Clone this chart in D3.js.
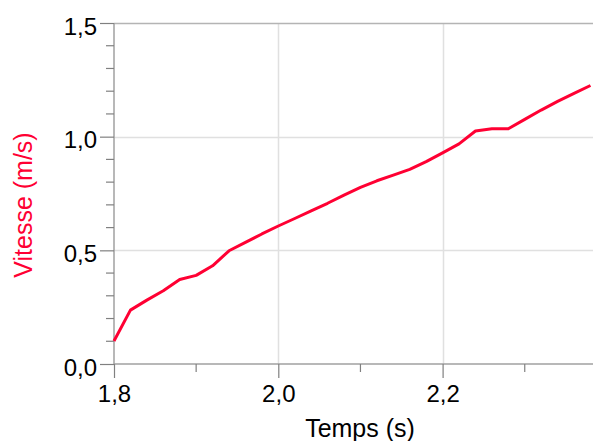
<!DOCTYPE html>
<html>
<head>
<meta charset="utf-8">
<script src="https://cdn.jsdelivr.net/npm/d3@7"></script>
<style>
  body { margin: 0; background: #fff; }
  text { font-family: "Liberation Sans", Arial, sans-serif; }
</style>
</head>
<body>
<script>
var w = 593;
var h = 441;

// temps (s)
var temps = [1.80, 1.82, 1.84, 1.86, 1.88, 1.90, 1.92, 1.94, 1.96, 1.98,
  2.00, 2.02, 2.04, 2.06, 2.08, 2.10, 2.12, 2.14, 2.16, 2.18,
  2.20, 2.22, 2.24, 2.26, 2.28, 2.30, 2.32, 2.34, 2.36, 2.38];
// vitesse (m/s)
var vitesse = [0.101, 0.237, 0.281, 0.322, 0.372, 0.390, 0.432, 0.498, 0.535, 0.572,
  0.607, 0.640, 0.674, 0.707, 0.743, 0.777, 0.806, 0.831, 0.856, 0.890,
  0.929, 0.968, 1.025, 1.035, 1.035, 1.076, 1.117, 1.155, 1.190, 1.225];

var xMajor = [1.8, 2.0, 2.2];
var xMinor = [1.9, 2.1, 2.3];
var yMajor = [0, 0.5, 1.0, 1.5];
var yMinor = [0.1, 0.2, 0.3, 0.4, 0.6, 0.7, 0.8, 0.9, 1.1, 1.2, 1.3, 1.4];

var pLeft = 114, pRight = 593, pTop = 23, pBottom = 364;
var red = '#ff0033';
var fmt = function(d){ return d3.format('.1f')(d).replace('.', ','); };

var x = d3.scaleLinear().domain([1.8, 1.8 + (pRight - pLeft) / 821.5]).range([pLeft, pRight]);
var y = d3.scaleLinear().domain([0, 1.5]).range([pBottom, pTop]);

var svg = d3.select('body').append('svg')
    .attr('width', w)
    .attr('height', h);

// grid
var grid = svg.append('g').attr('class', 'grid');
grid.selectAll('line.vx').data(xMajor.slice(1)).enter().append('line')
   .attr('class', 'vx')
   .attr('x1', function(d){ return Math.round(x(d)) + 0.5; })
   .attr('x2', function(d){ return Math.round(x(d)) + 0.5; })
   .attr('y1', pTop).attr('y2', pBottom);
grid.selectAll('line.hy').data(yMajor.slice(1, 3)).enter().append('line')
   .attr('class', 'hy')
   .attr('x1', pLeft).attr('x2', pRight)
   .attr('y1', function(d){ return Math.round(y(d)) + 0.5; })
   .attr('y2', function(d){ return Math.round(y(d)) + 0.5; });
grid.selectAll('line').attr('stroke', '#e0e0e0').attr('stroke-width', 1.5);

// top border
svg.append('line')
   .attr('x1', pLeft).attr('x2', pRight)
   .attr('y1', Math.round(y(1.5)) + 0.5).attr('y2', Math.round(y(1.5)) + 0.5)
   .attr('stroke', '#b4b4b4').attr('stroke-width', 1.5);

// axes
var xAxis = svg.append('g').attr('transform', 'translate(0,' + pBottom + ')')
   .call(d3.axisBottom(x).tickValues(xMajor).tickSize(14).tickPadding(7).tickFormat(fmt));
xAxis.append('g').selectAll('line').data(xMinor).enter().append('line')
   .attr('x1', function(d){ return x(d); }).attr('x2', function(d){ return x(d); })
   .attr('y1', 0).attr('y2', 8);

var yAxis = svg.append('g').attr('transform', 'translate(' + pLeft + ',0)')
   .call(d3.axisLeft(y).tickValues(yMajor).tickSize(14).tickPadding(3).tickFormat(fmt));
yAxis.append('g').selectAll('line').data(yMinor).enter().append('line')
   .attr('x1', 0).attr('x2', -8)
   .attr('y1', function(d){ return y(d); }).attr('y2', function(d){ return y(d); });

[xAxis, yAxis].forEach(function(a){
  a.selectAll('line').attr('stroke', '#808080').attr('stroke-width', 1.2);
  a.select('.domain').attr('stroke', '#a0a0a0').attr('stroke-width', 1.5);
  a.selectAll('.tick text').attr('font-size', 24).attr('fill', '#000')
   .attr('font-family', '"Liberation Sans", Arial, sans-serif');
});
yAxis.selectAll('.tick text').attr('dy', '0.47em');
yAxis.select('.domain').attr('d', 'M0,' + pTop + 'V' + pBottom);
xAxis.select('.domain').attr('d', 'M' + pLeft + ',0H' + pRight);

// line
var pts = temps.map(function(t, i){ return [t, vitesse[i]]; });
svg.append('path').datum(pts)
   .attr('fill', 'none')
   .attr('stroke', red)
   .attr('stroke-width', 3)
   .attr('stroke-linejoin', 'round')
   .attr('d', d3.line().x(function(d){ return x(d[0]); }).y(function(d){ return y(d[1]); }));

// labels
svg.append('text')
   .attr('x', 360).attr('y', 437)
   .attr('text-anchor', 'middle')
   .attr('font-size', 25)
   .text('Temps (s)');
svg.append('text')
   .attr('transform', 'translate(32,205) rotate(-90)')
   .attr('text-anchor', 'middle')
   .attr('font-size', 25)
   .attr('fill', red)
   .text('Vitesse (m/s)');
</script>
</body>
</html>
